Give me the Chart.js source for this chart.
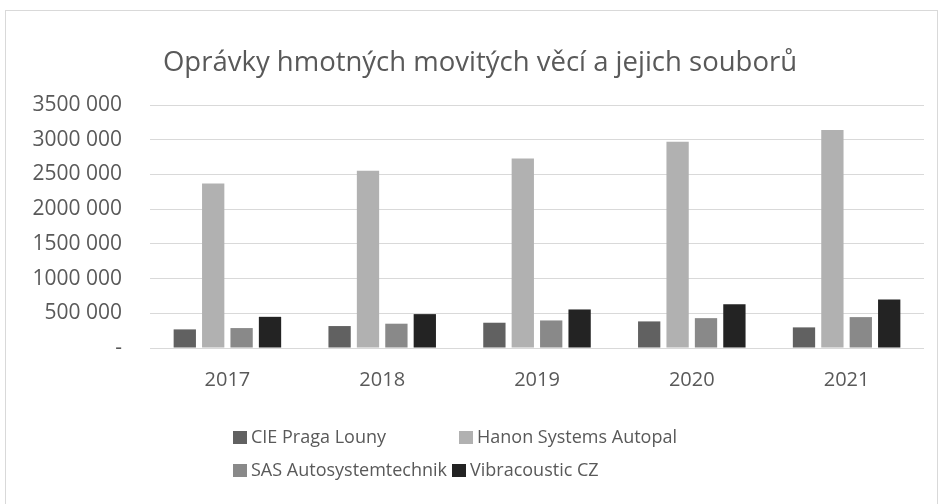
<!DOCTYPE html>
<html>
<head>
<meta charset="utf-8">
<script src="https://cdn.jsdelivr.net/npm/chart.js@4"></script>
<style>
  html, body { margin: 0; padding: 0; background: #ffffff; }
  #wrap { position: relative; width: 945px; height: 504px; overflow: hidden; background: #fff; }
  #frame { position: absolute; left: 5px; top: 10px; width: 933px; height: 500px; border: 1px solid #d9d9d9; box-sizing: border-box; }
  #c { position: absolute; left: 0; top: 0; }
  .lg { position: absolute; font-family: "Open Sans", sans-serif; font-size: 18px; color: #595959; line-height: 20px; white-space: nowrap; }
  .lg i { display: inline-block; width: 14px; height: 13px; margin-right: 4px; vertical-align: -1px; }
</style>
</head>
<body>
<div id="wrap">
  <div id="frame"></div>
  <canvas id="c" width="945" height="504"></canvas>
  <div id="legend"></div>
</div>
<script>
const title = "Oprávky hmotných movitých věcí a jejich souborů";
const categories = ["2017", "2018", "2019", "2020", "2021"];
const seriesNames = ["CIE Praga Louny", "Hanon Systems Autopal", "SAS Autosystemtechnik", "Vibracoustic CZ"];
const ciePragaLouny = [268000, 316000, 364000, 383000, 297000];
const hanonSystemsAutopal = [2371000, 2553000, 2730000, 2969000, 3141000];
const sasAutosystemtechnik = [287000, 350000, 397000, 430000, 445000];
const vibracousticCZ = [449000, 488000, 555000, 631000, 699000];
const yTicks = [0, 500000, 1000000, 1500000, 2000000, 2500000, 3000000, 3500000];

const colors = ["#616161", "#b1b1b1", "#898989", "#232323"];
const values = [ciePragaLouny, hanonSystemsAutopal, sasAutosystemtechnik, vibracousticCZ];

function fmt(v) {
  if (v === 0) return "-";
  const s = String(v);
  return s.slice(0, s.length - 3) + " " + s.slice(s.length - 3);
}

const txt = "#595959";
const fam = "'Open Sans', sans-serif";

// shift the title block so it is centred like in the reference
const titleShift = {
  id: "titleShift",
  afterLayout(chart) {
    const t = chart.titleBlock;
    if (t) { t.left += 36; }
  }
};

new Chart(document.getElementById("c"), {
  type: "bar",
  data: {
    labels: categories,
    datasets: seriesNames.map((n, i) => ({
      label: n,
      data: values[i],
      backgroundColor: colors[i],
      borderWidth: 0,
      categoryPercentage: 0.734,
      barPercentage: 0.785
    }))
  },
  plugins: [titleShift],
  options: {
    responsive: false,
    animation: false,
    devicePixelRatio: 1,
    layout: { padding: { left: 0, right: 21, top: 0, bottom: 116 } },
    plugins: {
      legend: { display: false },
      tooltip: { enabled: false },
      title: {
        display: true,
        text: title,
        color: txt,
        font: { family: fam, size: 27.5, weight: "normal", lineHeight: 1.2 },
        padding: { top: 47, bottom: 25 }
      }
    },
    scales: {
      x: {
        afterFit: (s) => { s.height = 40; },
        grid: { display: false },
        border: { display: false },
        ticks: { color: txt, font: { family: fam, size: 20 }, padding: 12 }
      },
      y: {
        min: 0,
        max: 3500000,
        afterFit: (s) => { s.width = 150; },
        afterBuildTicks: (s) => { s.ticks = yTicks.map(v => ({ value: v })); },
        grid: { color: "#d9d9d9", lineWidth: 1, drawTicks: false },
        border: { display: false },
        ticks: { color: txt, font: { family: fam, size: 21 }, padding: 28, callback: (v) => fmt(v) }
      }
    }
  }
});

// legend (HTML, two rows as in the reference)
const legendPos = [[233, 426], [459, 426], [233, 459], [452, 459]];
const lg = document.getElementById("legend");
seriesNames.forEach((n, i) => {
  const d = document.createElement("div");
  d.className = "lg";
  d.style.left = legendPos[i][0] + "px";
  d.style.top = legendPos[i][1] + "px";
  const b = document.createElement("i");
  b.style.background = colors[i];
  d.appendChild(b);
  d.appendChild(document.createTextNode(n));
  lg.appendChild(d);
});
</script>
</body>
</html>
